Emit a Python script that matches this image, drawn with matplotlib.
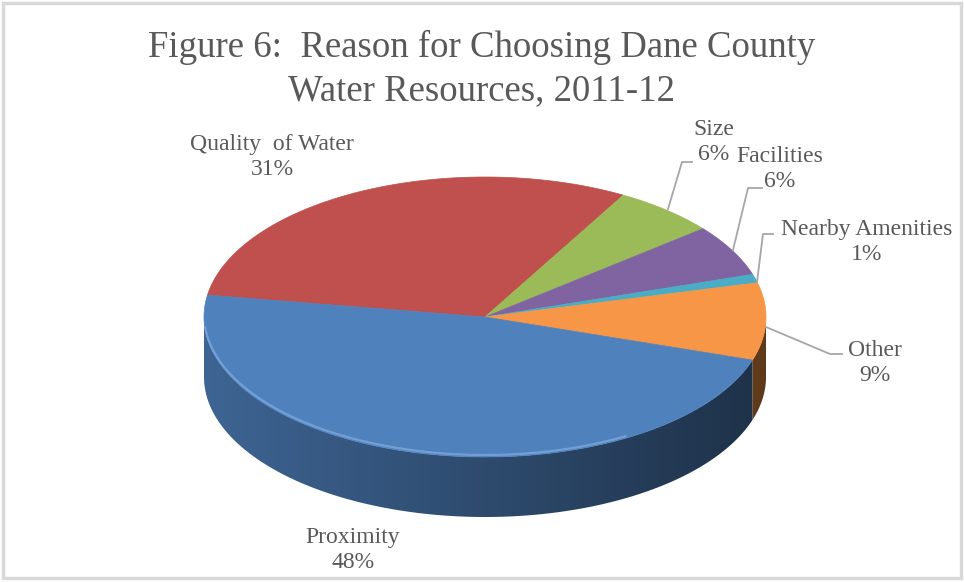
import numpy as np
import matplotlib
matplotlib.use("Agg")
from matplotlib import pyplot as plt
from matplotlib.patches import Polygon, Rectangle

# data (clockwise from the left edge of the pie)
labels = ["Quality  of Water", "Size", "Facilities", "Nearby Amenities", "Other", "Proximity"]
values = [31, 6, 6, 1, 9, 48]
colors = ["#C0504D", "#9BBB59", "#8064A2", "#4BACC6", "#F79646", "#4F81BD"]

title = "Figure 6:  Reason for Choosing Dane County\nWater Resources, 2011-12"

plt.rcParams["font.family"] = ["Liberation Serif", "DejaVu Serif"]
text_color = "#595959"

fig = plt.figure(figsize=(9.64, 5.82), dpi=100)
ax = fig.add_axes([0, 0, 1, 1])
ax.axis("off")

# pie geometry in pixels
cx, cy = 485, 317
rx, ry = 281, 140
depth = 60
start = 171


def pt(t):
    r = np.radians(t)
    return cx + rx * np.cos(r), cy - ry * np.sin(r)


fracs = np.array(values) / sum(values)
edges = start - np.concatenate([[0], np.cumsum(fracs)]) * 360

# side walls (front half only) with a left-to-right shading gradient
xs = np.linspace(cx - rx, cx + rx, 300)
shade = 0.58 + 0.2 * (cx - xs) / rx
for i, c in enumerate(colors):
    hi, lo = edges[i], edges[i + 1]
    ts = np.linspace(lo, hi, 400)
    ts = ts[np.sin(np.radians(ts)) <= 1e-9]
    if len(ts) < 2:
        continue
    top = [pt(t) for t in ts]
    bot = [(x, y + depth) for x, y in top[::-1]]
    poly = Polygon(top + bot, closed=True, facecolor="none", edgecolor="none")
    ax.add_patch(poly)
    rgb = np.array(matplotlib.colors.to_rgb(c))
    img = np.clip(shade[None, :, None] * rgb[None, None, :], 0, 1)
    im = ax.imshow(img, extent=(cx - rx, cx + rx, cy + ry + depth + 5, cy - 5),
                   aspect="auto", interpolation="bilinear", zorder=1)
    im.set_clip_path(poly)

# top face
for i, c in enumerate(colors):
    hi, lo = edges[i], edges[i + 1]
    ts = np.linspace(lo, hi, max(int((hi - lo) * 2), 4))
    pts = [(cx, cy)] + [pt(t) for t in ts]
    ax.add_patch(Polygon(pts, closed=True, facecolor=c, edgecolor=c, lw=0.5, zorder=2))

# soft highlight on the front rim
ts = np.linspace(185, 300, 200)
rim = np.array([pt(t) for t in ts])
ax.plot(rim[:, 0], rim[:, 1] - 2, color="#7BA7DD", lw=1.6, alpha=0.8, zorder=3)

ax.set_xlim(0, 964)
ax.set_ylim(582, 0)

# title
ax.text(482, 69, title, ha="center", va="center", fontsize=26.5, color=text_color,
        linespacing=1.3)

# data labels
label_pos = [(272, 157), (714, 142), (780, 169), (867, 242), (875, 363), (353, 550)]
for name, v, (lx, ly) in zip(labels, values, label_pos):
    ax.text(lx, ly, f"{name}\n{v}%", ha="center", va="center", fontsize=17,
            color=text_color, linespacing=1.3)

# leader lines
leaders = [
    [(668, 209), (682, 162), (692, 162)],
    [(733, 250), (748, 188), (762, 188)],
    [(757, 282), (763, 234), (773, 234)],
    [(766, 327), (830, 354), (842, 354)],
]
for ln in leaders:
    ln = np.array(ln)
    ax.plot(ln[:, 0], ln[:, 1], color="#A6A6A6", lw=1.3)

# chart border
ax.add_patch(Rectangle((3, 3), 958, 575, fill=False, edgecolor="#D9D9D9", lw=2.5))

fig.savefig("out.png", dpi=100)
